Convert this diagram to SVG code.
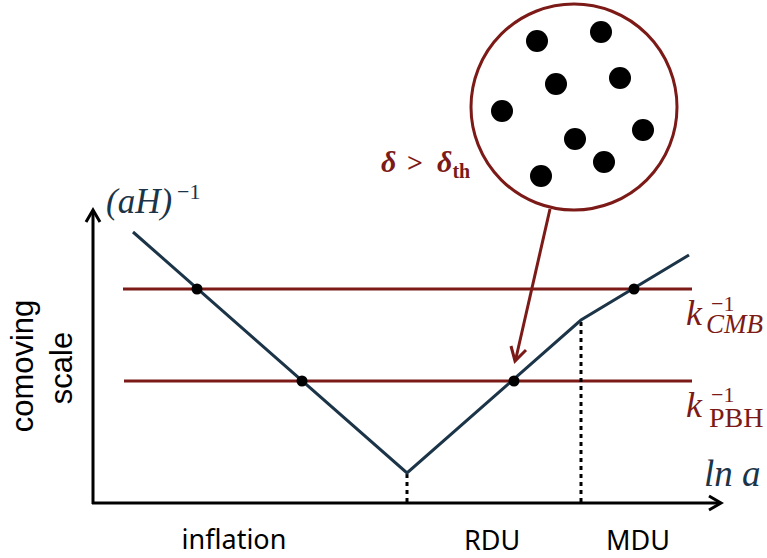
<svg xmlns="http://www.w3.org/2000/svg" width="767" height="558" viewBox="0 0 767 558">
<style>
.red{stroke:#7b1a17;stroke-width:3;fill:none}
.navy{stroke:#1b3447;stroke-width:3;fill:none}
.axis{stroke:#000;stroke-width:3;fill:none}
.dot{stroke:#000;stroke-width:3;stroke-dasharray:4 4;fill:none}
.lbl{font-family:"Noto Sans","Open Sans",sans-serif;font-size:27px;fill:#000}
.lbl2{font-family:"Liberation Sans",Arial,sans-serif;font-size:31px;fill:#000}
.math{font-family:"Liberation Serif",serif;font-style:italic}
.up{font-family:"Liberation Serif",serif;font-style:normal}
.rt{fill:#7b1a17}
.nt{fill:#1b3447}
</style>
<g id="axes">
<path class="axis" d="M93,504 V211"/>
<path d="M86,222 L93,210 L100,222" fill="none" stroke="#000" stroke-width="3"/>
<path class="axis" d="M92,503 H720"/>
<path d="M709,496 L721,503 L709,510" fill="none" stroke="#000" stroke-width="3"/>
</g>
<g id="scales">
<line class="red" x1="123" y1="289" x2="692" y2="289"/>
<line class="red" x1="124" y1="381" x2="692" y2="381"/>
</g>
<g id="connectors">
<line class="dot" x1="407" y1="474" x2="407" y2="502"/>
<line class="dot" x1="581" y1="322" x2="581" y2="502"/>
<polyline class="navy" points="133,232 407,473 581,320 689,255"/>
<path d="M550,209 L516,358" stroke="#7b1a17" stroke-width="3" fill="none"/>
<path d="M511,346 L515,361 L526,350" stroke="#7b1a17" stroke-width="3" fill="none"/>
</g>
<g id="crossings" fill="#000">
<circle cx="197" cy="289" r="5.5"/>
<circle cx="302" cy="381" r="5.5"/>
<circle cx="514" cy="381" r="5.5"/>
<circle cx="634" cy="289" r="5.5"/>
</g>
<g id="region">
<circle cx="574" cy="107" r="103" fill="#fff" stroke="#7b1a17" stroke-width="3"/>
<g fill="#000">
<circle cx="537" cy="41" r="11"/>
<circle cx="601" cy="32" r="11"/>
<circle cx="556" cy="84" r="11"/>
<circle cx="620" cy="78" r="11"/>
<circle cx="502" cy="111" r="11"/>
<circle cx="643" cy="130" r="11"/>
<circle cx="575" cy="139" r="11"/>
<circle cx="604" cy="162" r="11"/>
<circle cx="541" cy="176" r="11"/>
</g>
</g>
<g id="labels">
<text class="math nt" x="106" y="213" font-size="35">(aH)</text>
<text class="up nt" x="177" y="199" font-size="22">−1</text>
<text class="rt" x="381" y="172" font-family="Liberation Serif,serif" font-weight="bold" font-size="30"><tspan font-style="italic">δ</tspan><tspan x="407" font-size="28">&gt;</tspan><tspan x="437" font-style="italic">δ</tspan><tspan font-size="20" dy="6">th</tspan></text>
<text class="math rt" x="686" y="325" font-size="36">k</text>
<text class="up rt" x="711" y="311" font-size="22">−1</text>
<text class="math rt" x="706" y="333" font-size="27">CMB</text>
<text class="math rt" x="686" y="417" font-size="36">k</text>
<text class="up rt" x="711" y="402" font-size="22">−1</text>
<text class="up rt" x="709" y="427" font-size="28">PBH</text>
<text class="math nt" x="704" y="486" font-size="37">ln a</text>
<text class="lbl2" transform="translate(33,366) rotate(-90)" text-anchor="middle">comoving</text>
<text class="lbl2" transform="translate(72,368) rotate(-90)" text-anchor="middle">scale</text>
<text class="lbl" x="234" y="549" text-anchor="middle">inflation</text>
<text class="lbl" x="492" y="550" text-anchor="middle">RDU</text>
<text class="lbl" x="638" y="550" text-anchor="middle">MDU</text>
</g>
</svg>
